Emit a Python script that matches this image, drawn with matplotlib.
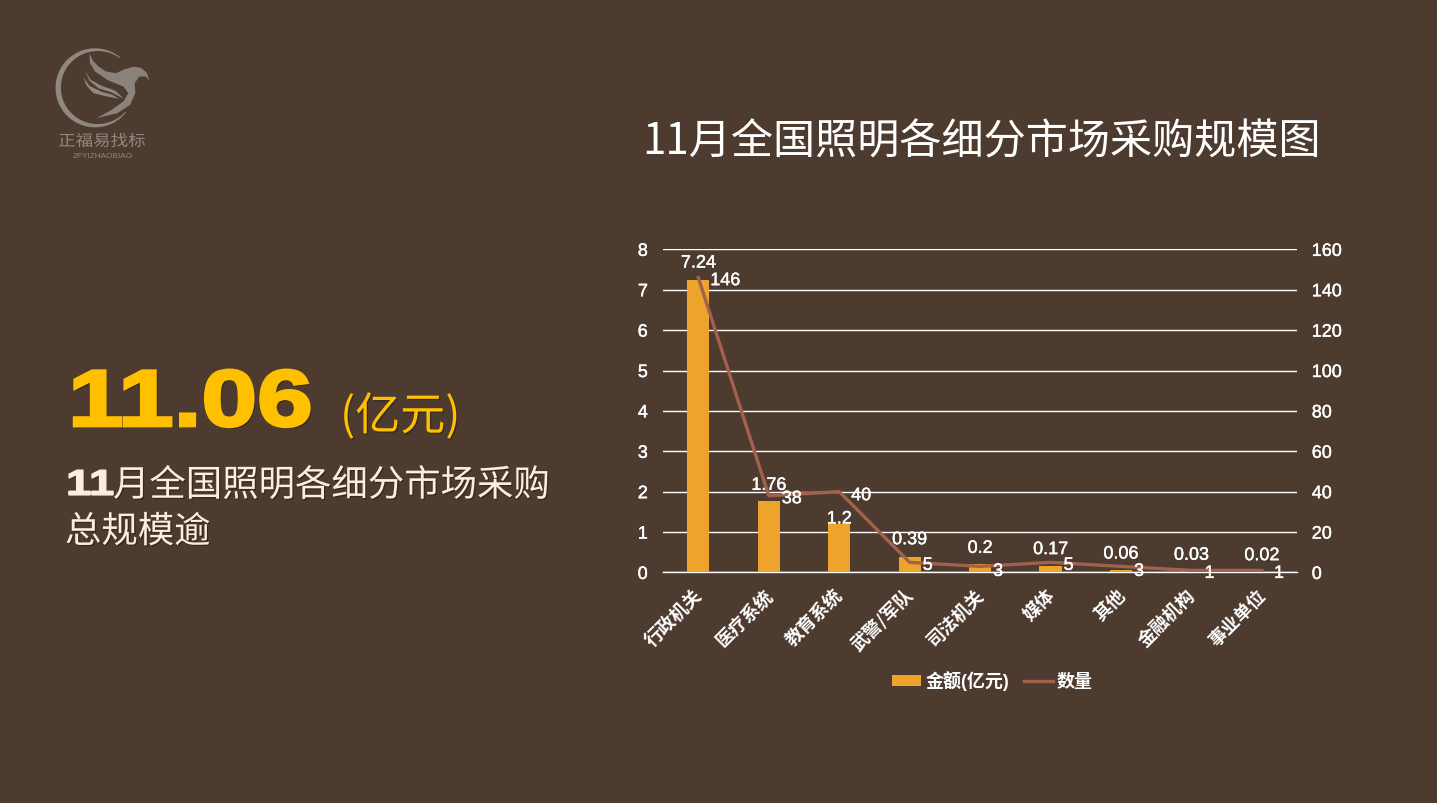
import matplotlib
matplotlib.use("Agg")
import matplotlib.pyplot as plt
import matplotlib.patheffects as pe
import matplotlib.transforms as mtrans
import numpy as np
from matplotlib.patches import Polygon
from matplotlib import font_manager as fm

categories = ["行政机关", "医疗系统", "教育系统", "武警/军队", "司法机关", "媒体", "其他", "金融机构", "事业单位"]
amount = [7.24, 1.76, 1.2, 0.39, 0.2, 0.17, 0.06, 0.03, 0.02]
count = [146, 38, 40, 5, 3, 5, 3, 1, 1]
amount_label_offset = [19, 18, 7, 19, 18, 18, 18, 18, 18]
count_label_dx = [27, 23, 22, 18, 18, 18, 18, 18, 17]
count_label_dy = [-1, -1, -2, -1, -3, -1, -3, -1, -1]
left_ticks = list(range(0, 9))
right_ticks = list(range(0, 161, 20))

BG = "#4D3B30"
BAR = "#EDA32C"
LINE = "#A0624C"
GOLD = "#FFC000"
CREAM = "#FBEEDD"
LOGO = "#8F8780"
W, H = 1437, 803
px = 72 / 100
SANS = ["Liberation Sans", "Noto Sans CJK SC", "DejaVu Sans"]
CJK = ["Noto Sans CJK SC", "DejaVu Sans"]
plt.rcParams["font.family"] = SANS


class Stretched(pe.AbstractPathEffect):
    """Widen a text horizontally around x0 (display px), fatten it and add a soft shadow."""

    def __init__(self, x0, sx=1.0, stroke=0.0, shadow=0.0, alpha=0.3):
        super().__init__()
        self.x0, self.sx, self.stroke, self.shadow, self.alpha = x0, sx, stroke, shadow, alpha

    def draw_path(self, renderer, gc, tpath, affine, rgbFace):
        st = mtrans.Affine2D().translate(-self.x0, 0).scale(self.sx, 1).translate(self.x0, 0)
        aff = affine + st
        if self.shadow:
            g = renderer.new_gc()
            g.copy_properties(gc)
            g.set_alpha(self.alpha)
            g.set_linewidth(0)
            renderer.draw_path(g, tpath, aff + mtrans.Affine2D().translate(self.shadow, -self.shadow), (0, 0, 0))
            g.restore()
        g = renderer.new_gc()
        g.copy_properties(gc)
        g.set_linewidth(self.stroke)
        g.set_foreground(rgbFace)
        g.set_joinstyle("miter")
        renderer.draw_path(g, tpath, aff, rgbFace)
        g.restore()


fig = plt.figure(figsize=((W + 0.2) / 100, (H + 0.2) / 100), dpi=100, facecolor=BG)

ov = fig.add_axes([0, 0, 1, 1], zorder=0)
ov.set_xlim(0, W)
ov.set_ylim(H, 0)
ov.axis("off")

soft = [Stretched(0, 1.0, 0, 1.3, 0.3)]
ov.text(68, 426, "11.06", fontsize=80 * px, family="Liberation Sans", weight="bold", color=GOLD, va="baseline",
        path_effects=[Stretched(68, 1.25, 2.2, 2.2, 0.3)])
ov.text(340, 430, "(亿元)", fontsize=45 * px, color=GOLD, va="baseline", family=CJK, path_effects=soft)
ov.text(66, 495, "11", fontsize=36 * px, family="Liberation Sans", weight="bold", color=CREAM, va="baseline",
        path_effects=[Stretched(66, 1.27, 1.0, 1.3, 0.3)])
ov.text(113, 482, "月全国照明各细分市场采购", fontsize=36.4 * px, family=CJK, color=CREAM, va="center_baseline", path_effects=soft)
ov.text(65, 528.5, "总规模逾", fontsize=36.4 * px, family=CJK, color=CREAM, va="center_baseline", path_effects=soft)
ov.text(642, 137, "11月全国照明各细分市场采购规模图", fontsize=42.1 * px, family=CJK, color="white", va="center_baseline")


def z(pts):
    return [(30 + a / 3, 30 + b / 3) for a, b in pts]


theta = np.radians(np.linspace(50, 322, 90))
outer = [(95 + 39.5 * np.cos(t), 88 - 39.5 * np.sin(t)) for t in theta]
thick = 0.8 + 4.6 * np.sin(np.linspace(0, np.pi, 90))
inner = [(95 + (39.5 - d) * np.cos(t), 88 - (39.5 - d) * np.sin(t)) for t, d in zip(theta, thick)]
ov.add_patch(Polygon(outer + inner[::-1], closed=True, fc=LOGO, ec="none"))
wing = z([(178, 70), (188, 92), (205, 110), (228, 125), (258, 130), (285, 118), (310, 111), (332, 114), (350, 128), (358, 152), (347, 140),
          (328, 140), (314, 160), (316, 190), (300, 225), (262, 250), (200, 265), (245, 240), (280, 215), (295, 190), (280, 170),
          (235, 152), (195, 125), (180, 100)])
ov.add_patch(Polygon(wing, closed=True, fc=LOGO, ec="none", alpha=0.95))
for s in ([(165, 122), (182, 150), (215, 168), (255, 182), (282, 207), (245, 188), (205, 175), (178, 152)],
          [(160, 142), (178, 168), (215, 186), (245, 194), (268, 207), (230, 200), (190, 190), (170, 168)]):
    ov.add_patch(Polygon(z(s), closed=True, fc=LOGO, ec="none"))
ov.text(58, 146, "正福易找标", fontsize=15.5 * px, color=LOGO, ha="left", va="baseline", family=CJK,
        path_effects=[Stretched(58, 1.13)])
ov.text(102.5, 156.5, "ZFYIZHAOBIAO", fontsize=8.3 * px, color=LOGO, ha="center", va="center")

x0, x1, ytop, ybot = 663, 1297, 249.5, 572.5
ax = fig.add_axes([x0 / W, 1 - ybot / H, (x1 - x0) / W, (ybot - ytop) / H], zorder=2)
ax.patch.set_alpha(0)
ax2 = ax.twinx()
ax2.patch.set_alpha(0)
x = np.arange(len(categories))
ax.set_axisbelow(True)
ax.yaxis.grid(True, color="white", lw=1.0)
bars = ax.bar(x, amount, width=0.315, color=BAR, zorder=3, label="金额(亿元)")
line, = ax2.plot(x, count, color=LINE, lw=2.4, solid_joinstyle="round", zorder=4, label="数量")
ax.set_xlim(-0.5, len(x) - 0.5)
ax.set_ylim(0, 8)
ax2.set_ylim(0, 160)
ax.set_yticks(left_ticks)
ax2.set_yticks(right_ticks)
thin = [pe.withStroke(linewidth=0.3, foreground="white")]
for a in (ax, ax2):
    for s in a.spines.values():
        s.set_visible(False)
    a.tick_params(length=0, labelcolor="white", labelsize=18 * px)
    for tl in a.get_yticklabels():
        tl.set_path_effects(thin)
ax.tick_params(axis="y", pad=11)
ax2.tick_params(axis="y", pad=10.5)
ax.set_xticks(x)
ax.set_xticklabels(categories, rotation=45, ha="right", va="top", rotation_mode="anchor",
                   fontsize=18 * px, color="white", weight="bold", family=CJK)
ax.tick_params(axis="x", pad=10)
shift = mtrans.ScaledTranslation(-5 / 100, 0, fig.dpi_scale_trans)
for tl in ax.get_xticklabels():
    tl.set_transform(tl.get_transform() + shift)
ax.axhline(0, color="white", lw=1.0, zorder=2, clip_on=False)

for i, (v, off) in enumerate(zip(amount, amount_label_offset)):
    ax.annotate(str(v), (x[i], v), xytext=(0, off * px), textcoords="offset points", ha="center",
                va="center_baseline", color="white", fontsize=18 * px, zorder=6, path_effects=thin)
for i, (v, dx, dy) in enumerate(zip(count, count_label_dx, count_label_dy)):
    ax2.annotate(str(v), (x[i], v), xytext=(dx * px, dy * px), textcoords="offset points", ha="center",
                 va="center_baseline", color="white", fontsize=18 * px, zorder=6, path_effects=thin)

fig.legend(handles=[bars, line], loc="center", bbox_to_anchor=(992.5 / W, 1 - 681 / H), ncol=2, frameon=False,
           prop=fm.FontProperties(family=SANS, weight="bold", size=18 * px),
           handlelength=1.6, handleheight=0.55, handletextpad=0.22, columnspacing=0.85, labelcolor="white",
           borderpad=0, borderaxespad=0)

fig.savefig("out.png", dpi=100, facecolor=BG)
